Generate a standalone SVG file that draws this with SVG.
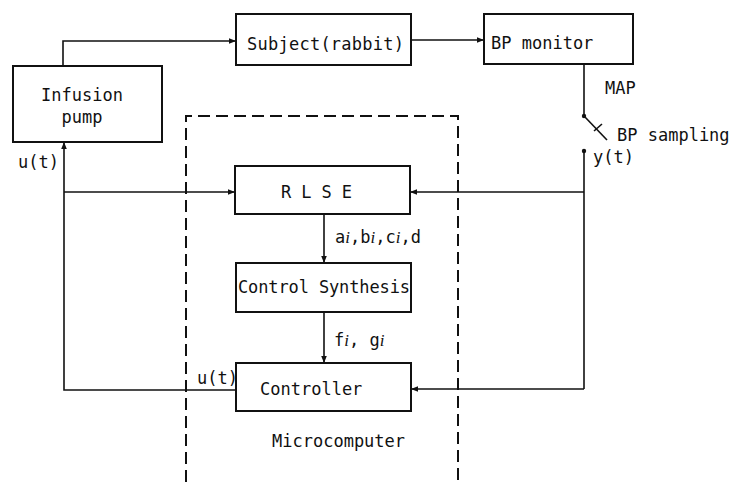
<svg xmlns="http://www.w3.org/2000/svg" width="732" height="482" viewBox="0 0 732 482">
  <style>
    .box { fill: #fff; stroke: #111; stroke-width: 2; }
    .ln { fill: none; stroke: #111; stroke-width: 1.6; }
    .dash { fill: none; stroke: #111; stroke-width: 2; stroke-dasharray: 12 6; }
    text { font-family: "DejaVu Sans Mono", "Liberation Mono", monospace; font-size: 17px; fill: #111; }
    .it { font-style: italic; font-family: "Liberation Serif", serif; }
  </style>
  <defs>
    <marker id="arr" viewBox="0 0 10 10" refX="10" refY="5" markerWidth="7" markerHeight="7" orient="auto" markerUnits="userSpaceOnUse">
      <path d="M0,1 L10,5 L0,9 z" fill="#111"/>
    </marker>
  </defs>
  <rect width="732" height="482" fill="#fff"/>

  <!-- microcomputer boundary -->
  <g id="microcomputer">
    <path class="dash" d="M186,482 V116 H458 V482"/>
    <text x="272" y="447">Microcomputer</text>
  </g>

  <!-- connectors -->
  <g id="connectors">
    <!-- pump to subject -->
    <path class="ln" d="M63,66 V41 H236" marker-end="url(#arr)"/>
    <!-- subject to monitor -->
    <path class="ln" d="M411,40 H484" marker-end="url(#arr)"/>
    <!-- MAP line to switch -->
    <path class="ln" d="M584,64 V116"/>
    <circle cx="584" cy="116" r="2.2" fill="#111"/>
    <path class="ln" d="M584,116 L607,140"/>
    <path class="ln" d="M594,131 L602,124"/>
    <circle cx="584" cy="151" r="2.2" fill="#111"/>
    <!-- y(t) bus -->
    <path class="ln" d="M584,151 V389"/>
    <path class="ln" d="M584,192 H410" marker-end="url(#arr)"/>
    <path class="ln" d="M584,389 H411" marker-end="url(#arr)"/>
    <!-- RLSE to synthesis to controller -->
    <path class="ln" d="M324,214 V263" marker-end="url(#arr)"/>
    <path class="ln" d="M324,312 V363" marker-end="url(#arr)"/>
    <!-- u(t) feedback -->
    <path class="ln" d="M236,390 H64 V142" marker-end="url(#arr)"/>
    <path class="ln" d="M64,192 H235" marker-end="url(#arr)"/>
  </g>

  <g id="infusion-pump">
    <rect class="box" x="13" y="66" width="149" height="76"/>
    <text x="82" y="101" text-anchor="middle">Infusion</text>
    <text x="82" y="123" text-anchor="middle">pump</text>
  </g>

  <g id="subject">
    <rect class="box" x="236" y="14" width="175" height="51"/>
    <text x="247" y="50" textLength="157">Subject(rabbit)</text>
  </g>

  <g id="bp-monitor">
    <rect class="box" x="484" y="14" width="149" height="50"/>
    <text x="491" y="49">BP monitor</text>
  </g>

  <g id="rlse">
    <rect class="box" x="235" y="166" width="175" height="48"/>
    <text x="281" y="198" textLength="71">R L S E</text>
  </g>

  <g id="control-synthesis">
    <rect class="box" x="236" y="263" width="175" height="49"/>
    <text x="238" y="293" textLength="172">Control Synthesis</text>
  </g>

  <g id="controller">
    <rect class="box" x="236" y="363" width="175" height="48"/>
    <text x="260" y="395">Controller</text>
  </g>

  <g id="labels">
    <text x="605" y="94">MAP</text>
    <text x="617" y="141">BP sampling</text>
    <text x="593" y="163">y(t)</text>
    <text x="18" y="168">u(t)</text>
    <text x="197" y="384">u(t)</text>
    <text x="335" y="243">a<tspan class="it">i</tspan>,b<tspan class="it">i</tspan>,c<tspan class="it">i</tspan>,d</text>
    <text x="334" y="346">f<tspan class="it">i</tspan>, g<tspan class="it">i</tspan></text>
  </g>
</svg>
